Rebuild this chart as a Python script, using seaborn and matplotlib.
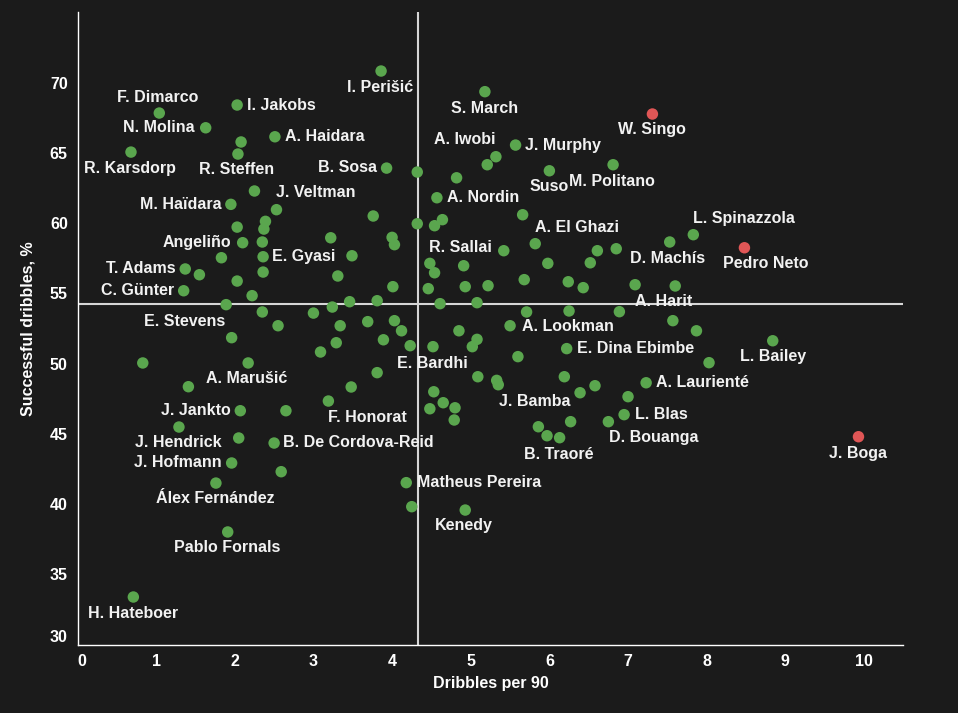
import matplotlib
matplotlib.use("Agg")
import matplotlib.pyplot as plt
import seaborn as sns
import pandas as pd

# ---------------- data ----------------
labeled_names = [
    "F. Dimarco", "I. Jakobs", "I. Perišić", "S. March", "W. Singo", "N. Molina",
    "A. Haidara", "A. Iwobi", "J. Murphy", "R. Karsdorp", "R. Steffen", "B. Sosa",
    "Suso", "M. Politano", "M. Haïdara", "J. Veltman", "A. Nordin", "L. Spinazzola",
    "A. El Ghazi", "R. Sallai", "Angeliño", "E. Gyasi", "D. Machís", "Pedro Neto",
    "T. Adams", "C. Günter", "A. Harit", "E. Stevens", "A. Lookman", "E. Dina Ebimbe",
    "L. Bailey", "E. Bardhi", "A. Marušić", "A. Laurienté", "J. Bamba", "F. Honorat",
    "L. Blas", "J. Jankto", "J. Hendrick", "B. De Cordova-Reid", "D. Bouanga",
    "B. Traoré", "J. Boga", "J. Hofmann", "Matheus Pereira", "Álex Fernández",
    "Kenedy", "Pablo Fornals", "H. Hateboer",
]
labeled_dribbles = [
    1.04, 2.03, 3.86, 5.18, 7.31, 1.63,
    2.51, 5.32, 5.57, 0.68, 2.04, 3.93,
    6.00, 6.81, 1.95, 2.25, 4.57, 7.83,
    5.66, 5.42, 2.10, 2.36, 7.53, 8.48,
    1.37, 1.35, 7.60, 1.89, 5.50, 6.22,
    8.84, 4.52, 2.17, 7.23, 5.35, 3.19,
    6.95, 2.07, 1.29, 2.50, 6.75,
    6.13, 9.93, 1.96, 4.18, 1.76,
    4.93, 1.91, 0.71,
]
labeled_success = [
    67.83, 68.40, 70.82, 69.35, 67.76, 66.78,
    66.14, 64.72, 65.55, 65.05, 64.91, 63.91,
    63.72, 64.15, 61.33, 62.28, 61.80, 59.17,
    60.59, 58.03, 58.60, 57.60, 58.65, 58.24,
    56.73, 55.18, 55.52, 54.19, 52.69, 51.06,
    51.62, 51.20, 50.04, 48.63, 48.49, 47.33,
    46.36, 46.64, 45.48, 44.34, 45.86,
    44.72, 44.79, 42.92, 41.52, 41.49,
    39.57, 38.01, 33.38,
]
other_dribbles = [
    2.08, 4.32, 4.82, 5.21, 3.76, 2.53, 2.39, 4.64, 2.03, 2.37, 4.32, 4.54,
    3.22, 4.00, 4.03, 2.35, 1.83, 3.49, 4.48, 4.91, 1.55, 4.54, 2.36, 3.31,
    2.03, 4.01, 4.46, 4.93, 2.22, 3.46, 3.81, 3.24, 4.61, 5.08, 2.35, 3.00,
    3.69, 4.03, 2.55, 3.34, 4.12, 4.85, 1.96, 3.89, 3.29, 5.08, 4.23, 5.02,
    3.09, 0.83, 5.09, 3.81, 1.41, 3.48, 4.53, 4.65, 4.80, 2.65, 4.48, 4.79,
    2.05, 2.59, 4.25,
    5.82, 6.61, 6.85, 5.98, 6.52, 5.68, 6.24, 5.22, 6.43, 7.09, 5.71, 6.25,
    6.89, 7.57, 7.87, 5.60, 8.03, 5.33, 6.19, 6.58, 6.39, 7.00, 6.27, 5.86,
    5.97,
]
other_success = [
    65.77, 63.63, 63.22, 64.15, 60.50, 60.95, 60.12, 60.24, 59.71, 59.57, 59.95, 59.81,
    58.95, 58.98, 58.46, 58.65, 57.53, 57.67, 57.13, 56.96, 56.32, 56.46, 56.51, 56.23,
    55.87, 55.47, 55.33, 55.47, 54.83, 54.40, 54.47, 54.02, 54.26, 54.33, 53.67, 53.59,
    52.98, 53.05, 52.69, 52.69, 52.33, 52.33, 51.84, 51.69, 51.48, 51.72, 51.27, 51.20,
    50.82, 50.04, 49.06, 49.35, 48.35, 48.33, 47.99, 47.21, 46.85, 46.64, 46.78, 45.98,
    44.70, 42.30, 39.81,
    58.53, 58.03, 58.17, 57.13, 57.17, 55.97, 55.82, 55.54, 55.40, 55.61, 53.67, 53.74,
    53.69, 53.05, 52.33, 50.49, 50.06, 48.80, 49.06, 48.42, 47.92, 47.64, 45.86, 45.50,
    44.86,
]
highlighted = ["W. Singo", "Pedro Neto", "J. Boga"]
median_dribbles = 4.33
median_success = 54.26
x_ticks = [0, 1, 2, 3, 4, 5, 6, 7, 8, 9, 10]
y_ticks = [30, 35, 40, 45, 50, 55, 60, 65, 70]
x_label = "Dribbles per 90"
y_label = "Successful dribbles, %"

# ---------------- label placement (pixels; dy positive = downwards) ----------------
label_place = {
    "F. Dimarco": ("center", -2, -16), "I. Jakobs": ("left", 9.5, 0),
    "I. Perišić": ("center", -1, 16.5), "S. March": ("center", 0, 16.6),
    "W. Singo": ("center", -0.7, 15.7), "N. Molina": ("right", -11, 0),
    "A. Haidara": ("left", 10, 0), "A. Iwobi": ("right", 0, -17),
    "J. Murphy": ("left", 9.3, 0), "R. Karsdorp": ("center", -1.5, 16),
    "R. Steffen": ("center", -1, 15), "B. Sosa": ("right", -9.7, -1),
    "Suso": ("center", 0, 15.3), "M. Politano": ("center", -1, 17),
    "M. Haïdara": ("right", -9.7, 0), "J. Veltman": ("left", 22, 1),
    "A. Nordin": ("left", 10, -0.5), "L. Spinazzola": ("left", 0, -16),
    "A. El Ghazi": ("left", 12.3, 13), "R. Sallai": ("right", -11.7, -3),
    "Angeliño": ("right", -11, 0), "E. Gyasi": ("left", 8.7, -0.7),
    "D. Machís": ("center", -1.7, 16.7), "Pedro Neto": ("center", 21.8, 15.6),
    "T. Adams": ("right", -10, -0.7), "C. Günter": ("right", -10, -0.4),
    "A. Harit": ("center", -11.4, 15.7), "E. Stevens": ("right", -1, 16.6),
    "A. Lookman": ("left", 12.3, 0.3), "E. Dina Ebimbe": ("left", 10.3, 0),
    "L. Bailey": ("center", 0, 15.6), "E. Bardhi": ("center", -0.7, 16.6),
    "A. Marušić": ("center", -1.4, 15.7), "A. Laurienté": ("left", 10.3, -0.7),
    "J. Bamba": ("left", 0.3, 16.6), "F. Honorat": ("left", 0, 16.3),
    "L. Blas": ("left", 10.6, -0.4), "J. Jankto": ("right", -10, 0),
    "J. Hendrick": ("center", -1, 15), "B. De Cordova-Reid": ("left", 9.3, -0.7),
    "D. Bouanga": ("left", 0.3, 16), "B. Traoré": ("center", -1, 16.3),
    "J. Boga": ("center", 0, 16.6), "J. Hofmann": ("right", -10, -0.7),
    "Matheus Pereira": ("left", 11, -0.4), "Álex Fernández": ("center", -1, 15),
    "Kenedy": ("center", -1.2, 15.3), "Pablo Fornals": ("center", -1, 16),
    "H. Hateboer": ("center", -0.7, 16.7),
}

# ---------------- figure ----------------
BG = "#1b1b1b"
GREEN = "#5aa64e"
RED = "#e05656"
TXT = "#f2f2f2"
FS = 11.5

sns.set_style("dark", {"axes.facecolor": BG, "figure.facecolor": BG})
plt.rcParams["font.family"] = ["Liberation Sans", "DejaVu Sans"]
plt.rcParams["font.weight"] = "bold"

names_all = labeled_names + [""] * len(other_dribbles)
df = pd.DataFrame({
    "name": names_all,
    "dribbles": labeled_dribbles + other_dribbles,
    "success": labeled_success + other_success,
})
df["group"] = ["highlight" if n in highlighted else "other" for n in df["name"]]

fig = plt.figure(figsize=(9.58, 7.13), dpi=100)
ax = fig.add_axes([77.5 / 958, 1 - 644.5 / 713, (903.3 - 77.5) / 958, (644.5 - 12.3) / 713])
ax.set_facecolor(BG)

ax.axvline(median_dribbles, color="#d6d6d6", lw=1.5, zorder=1)
ax.axhline(median_success, color="#d6d6d6", lw=1.5, zorder=1)

sns.scatterplot(data=df, x="dribbles", y="success", hue="group",
                palette={"other": GREEN, "highlight": RED},
                s=68, linewidth=0, legend=False, ax=ax, zorder=3)

for _, row in df[df["name"] != ""].iterrows():
    ha, dx, dy = label_place[row["name"]]
    ax.annotate(row["name"], (row["dribbles"], row["success"]),
                xytext=(dx, -dy), textcoords="offset pixels",
                ha=ha, va="center", color=TXT, fontsize=FS,
                fontweight="bold", zorder=4)

ax.set_xlim(0, 10.5)
ax.set_ylim(30, 75)
ax.set_xticks(x_ticks)
ax.set_yticks(y_ticks)
ax.tick_params(axis="both", colors="white", labelcolor="white", labelsize=FS,
               length=4, width=1, direction="out", pad=3)
for lab in ax.get_xticklabels() + ax.get_yticklabels():
    lab.set_fontweight("bold")
ax.get_xticklabels()[0].set_ha("left")
ax.get_yticklabels()[0].set_va("bottom")

for side in ["top", "right"]:
    ax.spines[side].set_visible(False)
for side in ["left", "bottom"]:
    ax.spines[side].set_visible(True)
    ax.spines[side].set_color("white")
    ax.spines[side].set_linewidth(1)
ax.grid(False)

ax.set_xlabel(x_label, color="white", fontsize=FS, fontweight="bold")
ax.set_ylabel(y_label, color="white", fontsize=FS, fontweight="bold")
ax.xaxis.set_label_coords(0.5, -(676 - 644.5) / 632.2)
ax.yaxis.set_label_coords((36 - 77.5) / 825.8, 0.5)

fig.savefig("out.png", dpi=100, facecolor=BG)
